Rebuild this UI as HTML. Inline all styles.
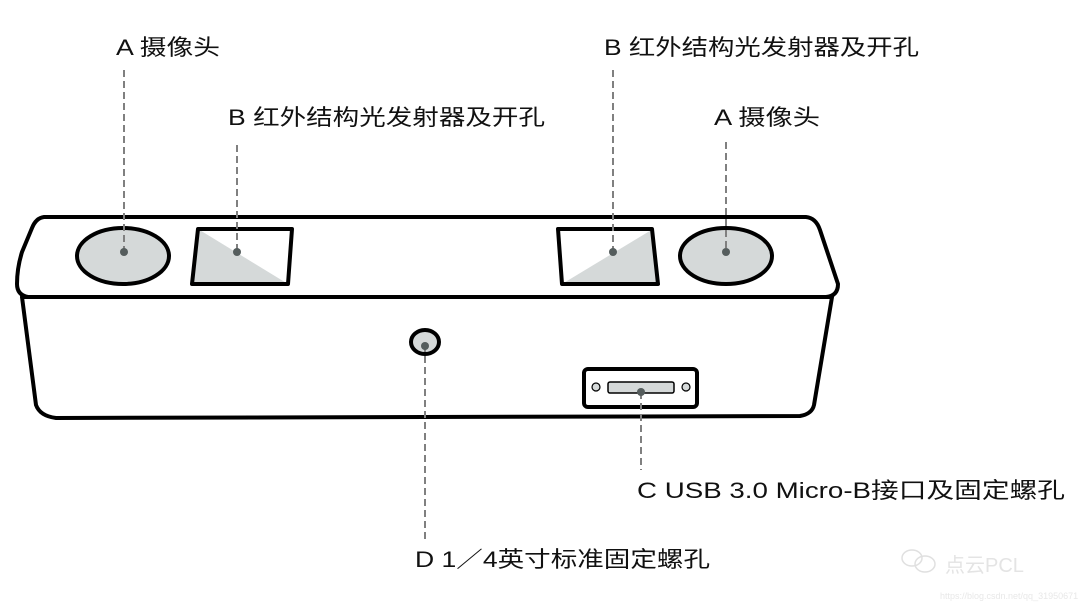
<!DOCTYPE html>
<html><head><meta charset="utf-8"><style>
html,body{margin:0;padding:0;background:#fff;}
svg{display:block}
text{font-family:"Liberation Sans","Noto Sans CJK SC",sans-serif;font-size:22px;fill:#111;}
</style></head><body>
<svg width="1080" height="608" viewBox="0 0 1080 608" xmlns="http://www.w3.org/2000/svg">
<!-- body -->
<g stroke="#000" stroke-width="4" fill="#fff" stroke-linejoin="round">
<path d="M22 297 L36 405 Q40 416 56 418 L800 416 Q812 414 814 405 L832 297 Z"/>
<path d="M44 217 L806 217 Q816 218 820 230 L838 284 Q838 296 826 297 L28 297 Q17 295 17 284 Q17 268 22 252 L32 228 Q36 218 44 217 Z"/>
</g>
<!-- camera left -->
<ellipse cx="123" cy="256" rx="46" ry="28" fill="#d5d9d9" stroke="#000" stroke-width="4"/>
<!-- emitter left -->
<polygon points="198,229 192,284 288,284" fill="#d5d9d9"/>
<polygon points="198,229 292,229 288,284 192,284" fill="none" stroke="#000" stroke-width="4" stroke-linejoin="round"/>
<!-- emitter right -->
<polygon points="653,229 562,284 659,284" fill="#d5d9d9"/>
<polygon points="558,229 652,229 658,284 562,284" fill="none" stroke="#000" stroke-width="4" stroke-linejoin="round"/>
<!-- camera right -->
<ellipse cx="726" cy="256" rx="46" ry="28" fill="#d5d9d9" stroke="#000" stroke-width="4"/>
<!-- D hole -->
<ellipse cx="425" cy="342" rx="14" ry="12" fill="#d5d9d9" stroke="#000" stroke-width="4"/>
<!-- USB -->
<rect x="584" y="369" width="113" height="38" rx="4" fill="#fff" stroke="#000" stroke-width="4"/>
<rect x="608" y="382" width="66" height="11" rx="2" fill="#d5d9d9" stroke="#000" stroke-width="1.5"/>
<ellipse cx="596" cy="387" rx="4" ry="4" fill="#d5d9d9" stroke="#000" stroke-width="1.2"/>
<ellipse cx="686" cy="387" rx="4" ry="4" fill="#d5d9d9" stroke="#000" stroke-width="1.2"/>
<!-- dashed leaders -->
<g stroke="#808080" stroke-width="2" stroke-dasharray="7,4" fill="none">
<line x1="124" y1="70" x2="124" y2="253"/>
<line x1="237" y1="145" x2="237" y2="252"/>
<line x1="613" y1="70" x2="613" y2="252"/>
<line x1="726" y1="142" x2="726" y2="252"/>
<line x1="425" y1="345" x2="425" y2="540"/>
<line x1="641" y1="392" x2="641" y2="470"/>
</g>
<!-- dots -->
<g fill="#555d5d">
<circle cx="124" cy="252" r="4"/>
<circle cx="237" cy="252" r="4"/>
<circle cx="613" cy="252" r="4"/>
<circle cx="726" cy="252" r="4"/>
<circle cx="425" cy="346" r="4"/>
<circle cx="641" cy="392" r="4"/>
</g>
<!-- labels -->
<text x="116" y="55" textLength="104" lengthAdjust="spacingAndGlyphs">A 摄像头</text>
<text x="228" y="125" textLength="317" lengthAdjust="spacingAndGlyphs">B 红外结构光发射器及开孔</text>
<text x="604" y="55" textLength="315" lengthAdjust="spacingAndGlyphs">B 红外结构光发射器及开孔</text>
<text x="714" y="125" textLength="106" lengthAdjust="spacingAndGlyphs">A 摄像头</text>
<text x="637" y="498" textLength="428" lengthAdjust="spacingAndGlyphs">C USB 3.0 Micro-B接口及固定螺孔</text>
<text x="415" y="567" textLength="295" lengthAdjust="spacingAndGlyphs">D 1／4英寸标准固定螺孔</text>
<!-- watermark -->
<text x="945" y="572" style="font-size:20px;fill:#e4e4e4">点云PCL</text>
<text x="940" y="599" style="font-size:9px;fill:#e8e8e8">https://blog.csdn.net/qq_31950671</text>
<g stroke="#e0e0e0" stroke-width="1.5" fill="none"><ellipse cx="912" cy="558" rx="10" ry="8"/><ellipse cx="925" cy="564" rx="10" ry="8"/></g>
</svg>
</body></html>
